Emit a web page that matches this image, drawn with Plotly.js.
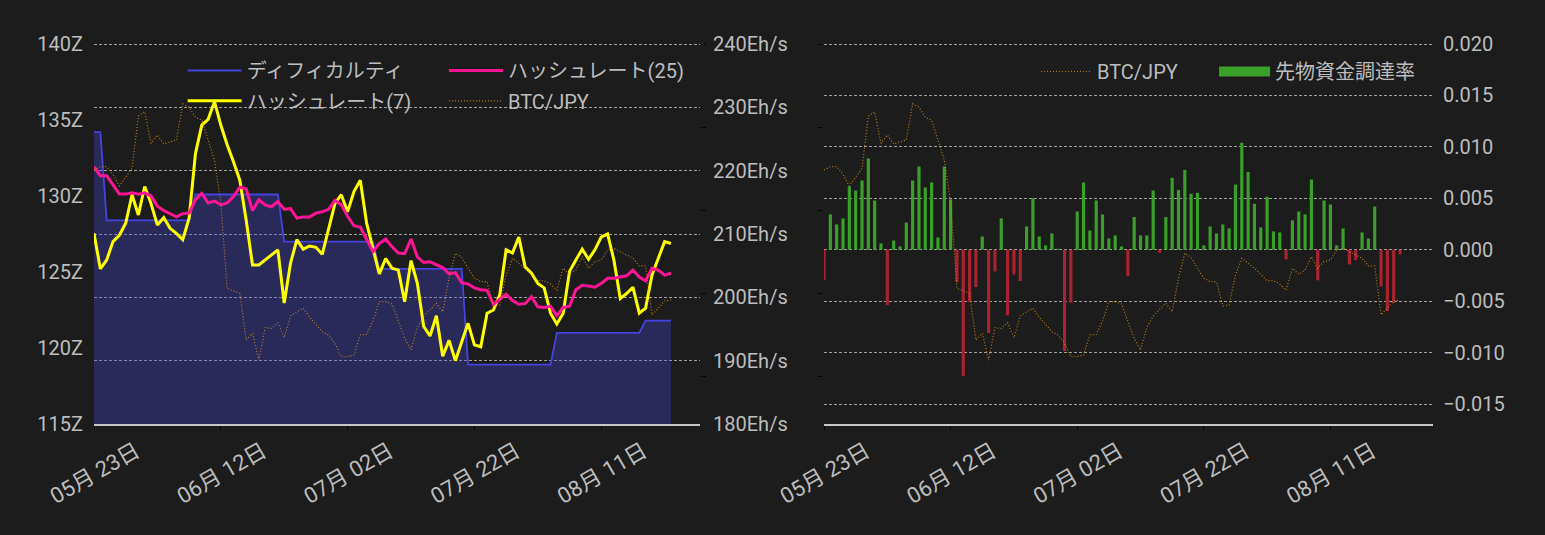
<!DOCTYPE html>
<html>
<head>
<meta charset="utf-8">
<script src="https://cdn.plot.ly/plotly-3.0.1.min.js"></script>
<style>
  html, body { margin: 0; padding: 0; background: #1c1c1c; }
  #chart { width: 1545px; height: 535px; }
</style>
</head>
<body>
<div id="chart"></div>
<script>
const dates = [
  '2022-05-23','2022-05-24','2022-05-25','2022-05-26','2022-05-27','2022-05-28','2022-05-29','2022-05-30','2022-05-31',
  '2022-06-01','2022-06-02','2022-06-03','2022-06-04','2022-06-05','2022-06-06','2022-06-07','2022-06-08','2022-06-09','2022-06-10',
  '2022-06-11','2022-06-12','2022-06-13','2022-06-14','2022-06-15','2022-06-16','2022-06-17','2022-06-18','2022-06-19','2022-06-20',
  '2022-06-21','2022-06-22','2022-06-23','2022-06-24','2022-06-25','2022-06-26','2022-06-27','2022-06-28','2022-06-29','2022-06-30',
  '2022-07-01','2022-07-02','2022-07-03','2022-07-04','2022-07-05','2022-07-06','2022-07-07','2022-07-08','2022-07-09','2022-07-10',
  '2022-07-11','2022-07-12','2022-07-13','2022-07-14','2022-07-15','2022-07-16','2022-07-17','2022-07-18','2022-07-19','2022-07-20',
  '2022-07-21','2022-07-22','2022-07-23','2022-07-24','2022-07-25','2022-07-26','2022-07-27','2022-07-28','2022-07-29','2022-07-30',
  '2022-07-31','2022-08-01','2022-08-02','2022-08-03','2022-08-04','2022-08-05','2022-08-06','2022-08-07','2022-08-08','2022-08-09',
  '2022-08-10','2022-08-11','2022-08-12','2022-08-13','2022-08-14','2022-08-15','2022-08-16','2022-08-17','2022-08-18','2022-08-19',
  '2022-08-20','2022-08-21','2022-08-22'
];

// Difficulty (Z)
const difficulty = [
  134.2,134.2,
  128.4,128.4,128.4,128.4,128.4,128.4,128.4,128.4,128.4,128.4,128.4,128.4,128.4,128.4,
  130.1,130.1,130.1,130.1,130.1,130.1,130.1,130.1,130.1,130.1,130.1,130.1,130.1,130.1,
  127.0,127.0,127.0,127.0,127.0,127.0,127.0,127.0,127.0,127.0,127.0,127.0,127.0,127.0,127.0,
  125.2,125.2,125.2,125.2,125.2,125.2,125.2,125.2,125.2,125.2,125.2,125.2,125.2,125.2,
  118.9,118.9,118.9,118.9,118.9,118.9,118.9,118.9,118.9,118.9,118.9,118.9,118.9,118.9,
  121.0,121.0,121.0,121.0,121.0,121.0,121.0,121.0,121.0,121.0,121.0,121.0,121.0,121.0,
  121.8,121.8,121.8,121.8,121.8
];

// Hash rate 7-day average (Eh/s)
const hash7 = [
  210.1,204.5,205.9,208.8,209.8,211.7,216.2,213.0,217.5,214.8,
  211.4,212.6,210.9,210.1,209.1,212.5,222.7,227.2,228.1,230.9,
  227.2,224.1,221.4,218.5,212.2,205.1,205.1,205.9,206.7,207.5,
  199.1,205.4,209.1,207.6,208.1,207.9,206.8,210.6,214.8,216.2,
  213.5,216.7,218.5,211.7,207.5,203.7,206.1,204.6,204.3,199.3,
  205.8,202.2,195.4,193.9,197.1,190.7,193.2,190.0,193.0,195.9,
  192.5,192.2,197.5,198.0,200.4,207.5,207.0,209.5,204.8,203.8,
  202.2,201.5,197.5,195.8,197.5,204.1,205.9,207.6,206.0,207.5,
  209.5,210.0,205.9,199.8,200.6,201.6,197.5,198.3,203.5,206.2,
  208.8,208.5
];

// Hash rate 25-day average (Eh/s)
const hash25 = [
  220.6,219.2,219.2,217.7,216.3,216.3,216.5,216.3,216.5,216.0,
  214.4,213.7,213.2,212.7,213.2,213.3,215.4,216.4,214.9,215.2,
  214.6,214.9,215.9,217.4,217.1,213.7,215.4,214.6,214.3,215.1,
  213.9,214.0,212.5,212.7,212.7,213.3,213.5,213.9,215.3,214.6,
  212.8,211.3,211.1,209.1,207.2,208.5,209.2,208.0,207.0,206.9,
  209.2,206.4,205.5,205.6,205.2,204.7,203.7,203.9,202.3,202.1,
  201.5,201.2,201.1,198.9,199.7,200.5,199.5,198.9,199.0,200.1,
  198.5,198.4,198.6,197.1,198.4,198.6,201.2,201.9,201.8,201.6,
  202.2,203.0,203.0,203.2,203.4,204.3,203.2,202.6,204.6,204.3,
  203.5,203.8
];

// BTC/JPY
const btcJpy = [
  3741000,3761000,3761000,3715000,3645000,3701000,3751000,4066000,4092000,3902000,
  3952000,3898000,3908000,3922000,4139000,4119000,4058000,4042000,3922000,3801000,
  3545000,3028000,3014000,2998000,2717000,2757000,2596000,2791000,2787000,2821000,
  2731000,2861000,2887000,2908000,2854000,2807000,2767000,2747000,2697000,2616000,
  2616000,2627000,2747000,2751000,2831000,2948000,2948000,2934000,2831000,2727000,
  2657000,2793000,2861000,2902000,2938000,2887000,3089000,3239000,3215000,3149000,
  3089000,3068000,3068000,2922000,2928000,3108000,3209000,3179000,3149000,3113000,
  3074000,3074000,3054000,3018000,3149000,3113000,3139000,3219000,3149000,3189000,
  3199000,3259000,3269000,3249000,3229000,3209000,3163000,3163000,2868000,2908000,
  2952000,2958000
];

// Futures funding rate
const funding = [
  -0.00295,0.00343,0.00246,0.00304,0.00617,0.00576,0.00673,0.00887,0.00479,0.00061,
  -0.00538,0.00090,0.00032,0.00265,0.00673,0.00809,0.00605,0.00654,0.00119,0.00809,
  0.00488,-0.00314,-0.01227,-0.00508,-0.00363,0.00129,-0.00810,-0.00211,0.00304,-0.00638,
  -0.00240,-0.00305,0.00226,0.00502,0.00129,0.00042,0.00158,0.00010,-0.00985,-0.00515,
  0.00372,0.00654,0.00187,0.00479,0.00343,0.00110,0.00139,0.00032,-0.00256,0.00318,
  0.00139,0.00139,0.00576,-0.00030,0.00318,0.00699,0.00582,0.00776,0.00544,0.00553,
  0.00042,0.00226,0.00158,0.00246,0.00207,0.00634,0.01040,0.00757,0.00447,0.00217,
  0.00515,0.00178,0.00168,-0.00094,0.00285,0.00372,0.00343,0.00683,-0.00298,0.00479,
  0.00440,0.00042,0.00207,-0.00143,-0.00101,0.00168,0.00110,0.00420,-0.00356,-0.00596,
  -0.00517,-0.00046
];

const seriesNames = {
  difficulty: 'ディフィカルティ',
  hash7: 'ハッシュレート(7)',
  hash25: 'ハッシュレート(25)',
  btc: 'BTC/JPY',
  funding: '先物資金調達率'
};

const BG = '#1c1c1c';
const TXT = '#bdbdbd';
const GRID = '#a0a0a0';
const BLUE = '#4444e0';
const YELLOW = '#ffff00';
const PINK = '#ff1493';
const BTC_COL = 'rgba(225,150,25,0.8)';
const GREEN = '#3ba02a';
const RED = '#a8232e';
const FONT = 'Roboto, "Noto Sans CJK JP", sans-serif';

const traces = [
  { x: dates, y: difficulty, xaxis: 'x', yaxis: 'y', type: 'scatter', mode: 'lines',
    line: { width: 0, color: BLUE }, fill: 'tozeroy', fillcolor: 'rgba(70,70,220,0.33)',
    showlegend: false, hoverinfo: 'skip' },
  { x: dates, y: difficulty, xaxis: 'x', yaxis: 'y', type: 'scatter', mode: 'lines',
    name: seriesNames.difficulty, line: { width: 1.8, color: BLUE }, legend: 'legend' },
  { x: dates, y: hash7, xaxis: 'x', yaxis: 'y2', type: 'scatter', mode: 'lines',
    name: seriesNames.hash7, line: { width: 3, color: YELLOW }, legend: 'legend3' },
  { x: dates, y: hash25, xaxis: 'x', yaxis: 'y2', type: 'scatter', mode: 'lines',
    name: seriesNames.hash25, line: { width: 3, color: PINK }, legend: 'legend2' },
  { x: dates, y: btcJpy, xaxis: 'x', yaxis: 'y3', type: 'scatter', mode: 'lines',
    name: seriesNames.btc, line: { width: 1.2, color: BTC_COL, dash: '1px,2px' }, legend: 'legend4' },

  { x: dates, y: funding, xaxis: 'x2', yaxis: 'y4', type: 'bar',
    marker: { color: funding.map(v => v >= 0 ? GREEN : RED) }, showlegend: false, name: seriesNames.funding },
  { x: dates, y: btcJpy, xaxis: 'x2', yaxis: 'y5', type: 'scatter', mode: 'lines',
    name: seriesNames.btc, line: { width: 1.2, color: BTC_COL, dash: '1px,2px' }, legend: 'legend5' },
  { x: [null], y: [null], xaxis: 'x2', yaxis: 'y4', type: 'scatter', mode: 'lines',
    name: seriesNames.funding, line: { width: 14, color: GREEN }, legend: 'legend6', hoverinfo: 'skip' }
];

const xCommon = {
  type: 'date', tick0: '2022-05-23', dtick: 20 * 86400000, tickformat: '%m月 %d日', tickangle: -30,
  ticklabelshift: 42,
  showline: true, linecolor: '#c8c8c8', linewidth: 2, ticks: 'outside', ticklen: 4, tickcolor: '#050505',
  showgrid: false, zeroline: false, tickfont: { size: 22, color: TXT, family: FONT }
};
const btcAxis = {
  range: [2210843, 4512048], tick0: 0, dtick: 500000, showticklabels: false, showgrid: false, zeroline: false,
  ticks: 'outside', ticklen: 5, tickcolor: '#050505', showline: false
};
const gridAxis = { showgrid: true, gridcolor: GRID, gridwidth: 1, griddash: '3px,2px', zeroline: false };

function legendAt(x, y, iw) {
  return { x: x, y: y, xanchor: 'left', yanchor: 'top', orientation: 'v', itemwidth: iw,
           bgcolor: 'rgba(0,0,0,0)', borderwidth: 0, font: { size: 20, color: TXT, family: FONT } };
}

// plot area: top margin 42, a 2px band above the top tick so the top grid line shows
const layout = {
  width: 1545, height: 535,
  paper_bgcolor: BG, plot_bgcolor: BG,
  font: { family: FONT, size: 20, color: TXT },
  margin: { l: 94, r: 112, t: 42, b: 111 },
  bargap: 0.5,
  xaxis: Object.assign({}, xCommon, { domain: [0, 0.4526], anchor: 'y', range: ['2022-05-23', '2022-08-26 14:00'] }),
  yaxis: { range: [115, 140.1316], dtick: 5, ticksuffix: 'Z', showgrid: false, zeroline: false,
           ticks: 'outside', ticklen: 6, tickcolor: 'rgba(0,0,0,0)', anchor: 'x' },
  yaxis2: Object.assign({}, gridAxis, { overlaying: 'y', side: 'right', anchor: 'x', range: [180, 240.3158], dtick: 10,
           ticksuffix: 'Eh/s', ticks: 'outside', ticklen: 8, tickcolor: 'rgba(0,0,0,0)' }),
  yaxis3: Object.assign({}, btcAxis, { overlaying: 'y', side: 'right', anchor: 'x' }),
  xaxis2: Object.assign({}, xCommon, { domain: [0.5452, 1], anchor: 'y4', range: ['2022-05-23', '2022-08-27 05:00'] }),
  yaxis4: Object.assign({}, gridAxis, { anchor: 'x2', side: 'right', range: [-0.01694, 0.020194], dtick: 0.005,
           tickformat: '.3f', ticks: 'outside', ticklen: 5, tickcolor: 'rgba(0,0,0,0)' }),
  yaxis5: Object.assign({}, btcAxis, { overlaying: 'y4', side: 'left', anchor: 'x2' }),
  legend:  legendAt(0.0662, 0.9764, 54),
  legend2: legendAt(0.2614, 0.9764, 54),
  legend3: legendAt(0.0662, 0.8971, 54),
  legend4: legendAt(0.2614, 0.8971, 54),
  legend5: legendAt(0.7035, 0.9738, 51),
  legend6: legendAt(0.8365, 0.9738, 51),
  showlegend: true
};

Plotly.newPlot('chart', traces, layout, { displayModeBar: false, staticPlot: true });
</script>
</body>
</html>
